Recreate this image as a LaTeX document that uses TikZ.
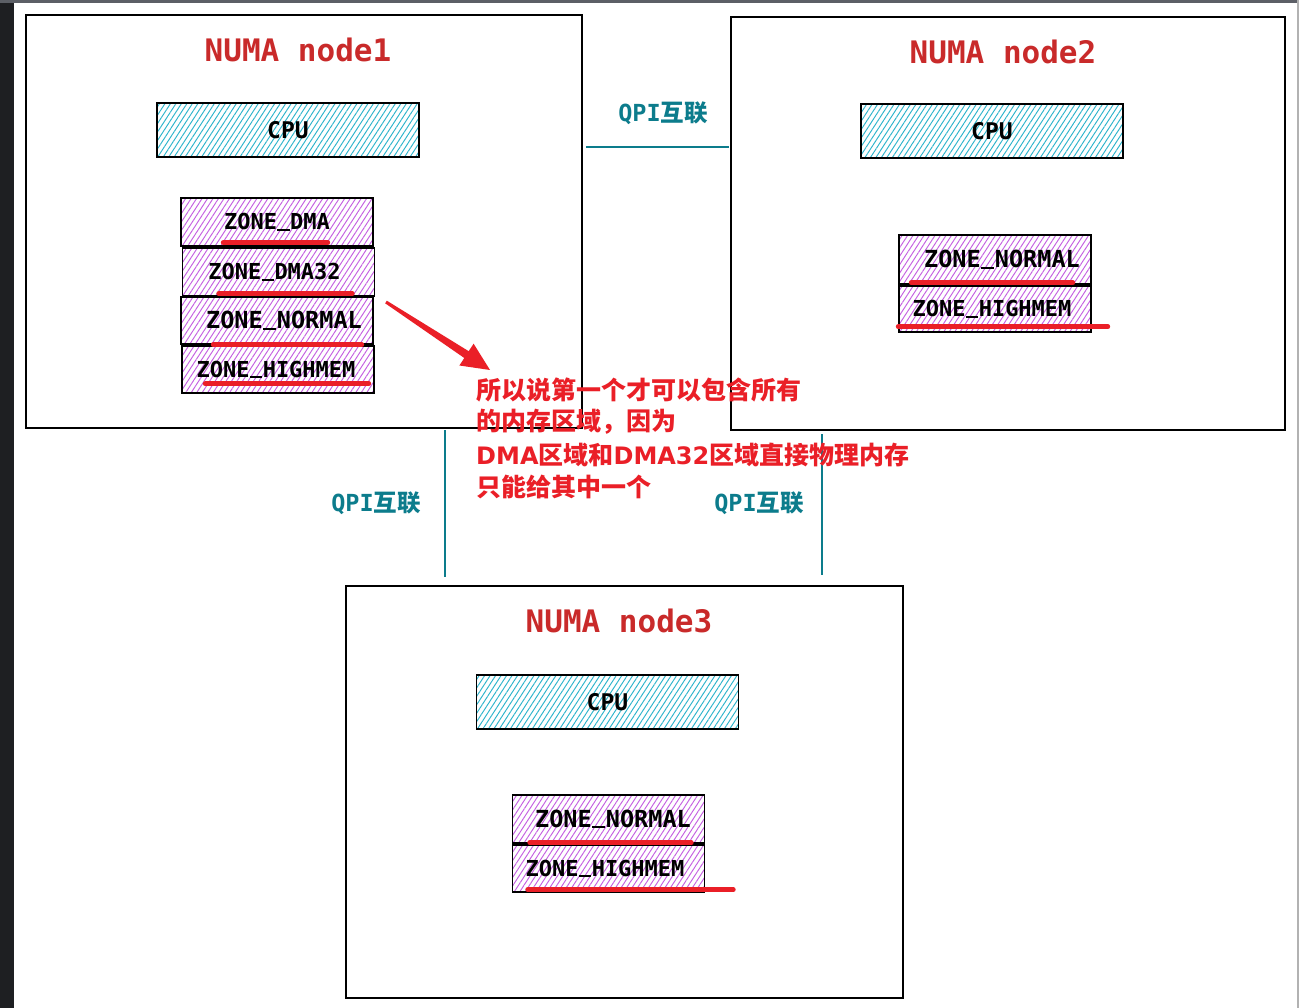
\documentclass[tikz,border=0pt]{standalone}
\usepackage{fontspec}
\usetikzlibrary{patterns.meta,arrows.meta,calc}
\newfontfamily\monof{DejaVu Sans Mono}
\newfontfamily\cjkf{Noto Sans CJK SC}
\newfontfamily\latbold{DejaVu Sans Bold}
\newcommand{\us}{\makebox[0.602em][c]{\rule[-0.06em]{0.56em}{0.085em}}}
\newcommand{\bignormal}{\fontsize{23.5}{27}\selectfont}
\definecolor{darkside}{HTML}{1E1F22}
\definecolor{topbar}{HTML}{5C5F66}
\definecolor{titlered}{HTML}{C92A2A}
\definecolor{notered}{HTML}{EA1F27}
\definecolor{teal}{HTML}{0C7C8C}
\definecolor{cyanh}{HTML}{2DB4CC}
\definecolor{purpleh}{HTML}{C560E2}
\tikzset{
  numabox/.style={draw=black, line width=1.3pt, minimum width=#1, inner sep=0pt, outer sep=0pt},
  cpubox/.style={draw=black, line width=1.4pt, minimum width=262pt, minimum height=54pt, inner sep=0pt,
     pattern={Lines[angle=57,distance=4.6pt,line width=0.95pt]}, pattern color=cyanh,
     font=\monof\bfseries\fontsize{23}{27}\selectfont},
  zonebox/.style={draw=black, line width=1.4pt, minimum width=192pt, minimum height=#1, inner sep=0pt,
     pattern={Lines[angle=57,distance=4.6pt,line width=0.95pt]}, pattern color=purpleh,
     font=\monof\bfseries\fontsize{22}{26}\selectfont},
  title/.style={text=titlered, font=\monof\bfseries\fontsize{31}{36}\selectfont, inner sep=0pt},
  qpi/.style={draw=teal, line width=1.5pt},
  qpilabel/.style={text=teal, font=\bfseries\fontsize{23.5}{27}\selectfont, inner sep=0pt},
  uline/.style={draw=notered, line width=5pt, line cap=round},
  notetext/.style={text=notered, font=\cjkf\bfseries\fontsize{25}{30}\selectfont, anchor=west, inner sep=0pt}
}
\begin{document}
\begin{tikzpicture}[x=1pt,y=-1pt]
\useasboundingbox (0,0) rectangle (1299,1008);
\fill[white] (0,0) rectangle (1299,1008);
\fill[darkside] (0,0) rectangle (14,1008);
\fill[topbar] (0,0) rectangle (1299,3);
\fill[gray!60] (1297,0) rectangle (1299,1008);

% NUMA boxes
\node[numabox=556pt, minimum height=413pt] (n1) at (304,221.5) {};
\node[numabox=554pt, minimum height=413pt] (n2) at (1008,223.5) {};
\node[numabox=557pt, minimum height=412pt] (n3) at (624.5,792) {};

% titles
\node[title] (t1) at (298,50) {NUMA node1};
\node[title] (t2) at (1003,52) {NUMA node2};
\node[title] (t3) at (619,621) {NUMA node3};

% CPUs
\node[cpubox] (cpu1) at (288,130) {CPU};
\node[cpubox] (cpu2) at (992,131) {CPU};
\node[cpubox] (cpu3) at (607.5,702) {CPU};

% node1 zones
\node[zonebox=48pt] (zd)   at (277,222)   {ZONE\us DMA};
\node[zonebox=48pt] (zd32) at (278.5,272) {\hspace*{-8pt}ZONE\us DMA32};
\node[zonebox=47pt] (zn)   at (277,320.5) {\bignormal\hspace*{14pt}\raisebox{-4pt}{ZONE\us NORMAL}};
\node[zonebox=47pt] (zh)   at (278,369.5) {\hspace*{-4pt}ZONE\us HIGHMEM};

% node2 zones
\node[zonebox=49pt] (zn2) at (995,259.5) {\bignormal\hspace*{14pt}\raisebox{-5pt}{ZONE\us NORMAL}};
\node[zonebox=46pt] (zh2) at (995,309)   {\hspace*{-6pt}ZONE\us HIGHMEM};

% node3 zones
\node[zonebox=48pt] (zn3) at (608.5,819)   {\bignormal\hspace*{9pt}\raisebox{-5pt}{ZONE\us NORMAL}};
\node[zonebox=47pt] (zh3) at (608.5,868.5) {\hspace*{-7pt}ZONE\us HIGHMEM};

% red underlines
\draw[uline] ([shift={(43,-4)}]zd.south west) -- ([shift={(-46,-4)}]zd.south east);
\draw[uline] ([shift={(37,-3)}]zd32.south west) -- ([shift={(-23,-3)}]zd32.south east);
\draw[uline] ([shift={(33,0)}]zn.south west) -- ([shift={(-12,0)}]zn.south east);
\draw[uline] ([shift={(24,-10)}]zh.south west) -- ([shift={(-6,-10)}]zh.south east);
\draw[uline] ([shift={(13,-2)}]zn2.south west) -- ([shift={(-19,-2)}]zn2.south east);
\draw[uline] ([shift={(0,-6)}]zh2.south west) -- ([shift={(16,-6)}]zh2.south east);
\draw[uline] ([shift={(18,-1)}]zn3.south west) -- ([shift={(-14,-1)}]zn3.south east);
\draw[uline] ([shift={(16,-3)}]zh3.south west) -- ([shift={(28,-3)}]zh3.south east);

% QPI connectors
\draw[qpi] ([shift={(4,132)}]n1.north east) -- ([shift={(-2,130)}]n2.north west);
\draw[qpi] ([shift={(419,2)}]n1.south west) -- ([shift={(99,-9)}]n3.north west);
\draw[qpi] ([shift={(91,4)}]n2.south west) -- ([shift={(-81,-11)}]n3.north east);
\node[qpilabel] (q12) at (663,113) {{\monof QPI}{\cjkf 互联}};
\node[qpilabel] (q13) at (376,503) {{\monof QPI}{\cjkf 互联}};
\node[qpilabel] (q23) at (759,503) {{\monof QPI}{\cjkf 互联}};

% note
\node[notetext] (note1) at (476,390) {所以说第一个才可以包含所有};
\node[notetext] (note2) at (476,422) {的内存区域，因为};
\node[notetext] (note3) at (476,455) {{\latbold\fontsize{24}{30}\selectfont DMA}区域和{\latbold\fontsize{24}{30}\selectfont DMA32}区域直接物理内存};
\node[notetext] (note4) at (476,487) {只能给其中一个};

% tapered red arrow pointing at the note
\coordinate (a1) at (386.8,300.7);
\coordinate (a2) at (468.7,351.2);
\coordinate (a3) at (473.6,343.7);
\coordinate (atip) at (490,370);
\coordinate (a5) at (459.4,365.5);
\coordinate (a6) at (464.3,358.0);
\coordinate (a7) at (385.2,303.3);
\fill[notered] (a1) -- (a2) -- (a3) -- (atip) -- (a5) -- (a6) -- (a7) -- cycle;
\end{tikzpicture}
\end{document}
